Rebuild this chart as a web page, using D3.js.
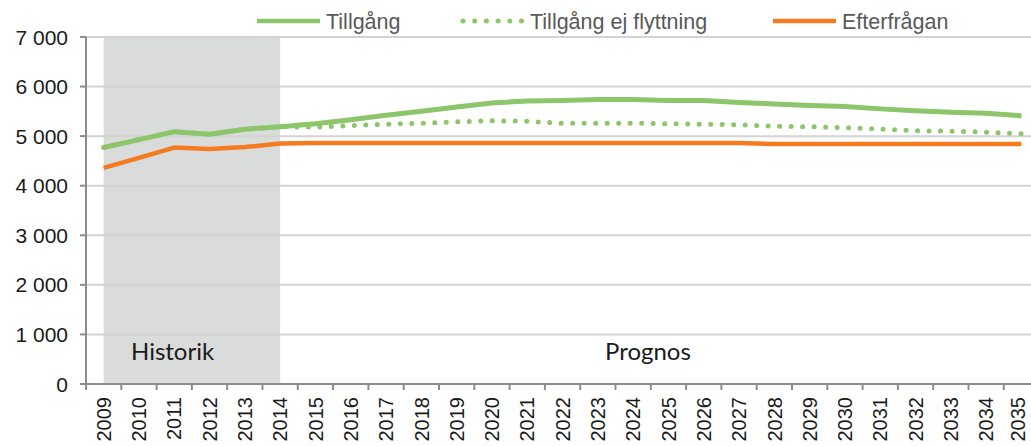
<!DOCTYPE html>
<html>
<head>
<meta charset="utf-8">
<script src="https://cdn.jsdelivr.net/npm/d3@7"></script>
<style>
  body { margin: 0; background: white; }
  .gridline { stroke: #d3d3d3; stroke-width: 2; }
  .axisline { stroke: #8c8c8c; stroke-width: 2; }
  .ytick { font-family: "Liberation Sans", Arial, sans-serif; font-size: 21px; fill: #1a1a1a; }
  .xtick { font-family: "Liberation Sans", Arial, sans-serif; font-size: 20px; fill: #1a1a1a; }
  .legend { font-family: "Liberation Sans", Arial, sans-serif; font-size: 21.5px; fill: #595959; }
  .area-label { font-family: Lato, "Open Sans", sans-serif; font-size: 24px; fill: #1a1a1a; }
</style>
</head>
<body>
<div id="chart"></div>
<script>
var years = ["2009","2010","2011","2012","2013","2014","2015","2016","2017","2018","2019","2020","2021","2022",
  "2023","2024","2025","2026","2027","2028","2029","2030","2031","2032","2033","2034","2035"];

var tillgang = [4770, 4930, 5090, 5040, 5140, 5190, 5250, 5330, 5420, 5500, 5590, 5670, 5710, 5720,
  5740, 5740, 5720, 5720, 5680, 5650, 5620, 5600, 5550, 5510, 5480, 5460, 5410];

var tillgangEjFlytt = [4770, 4930, 5090, 5040, 5140, 5190, 5180, 5210, 5240, 5260, 5290, 5310, 5300, 5260,
  5260, 5260, 5250, 5240, 5230, 5200, 5190, 5170, 5140, 5110, 5100, 5080, 5050];

var efterfragan = [4360, 4560, 4770, 4740, 4780, 4850, 4860, 4860, 4860, 4860, 4860, 4860, 4860, 4860,
  4860, 4860, 4860, 4860, 4860, 4840, 4840, 4840, 4840, 4840, 4840, 4840, 4840];

var yTicks = [0, 1000, 2000, 3000, 4000, 5000, 6000, 7000];
var legendNames = ["Tillgång", "Tillgång ej flyttning", "Efterfrågan"];

var green = "#8cc56a";
var orange = "#f57b20";

var width = 1031, height = 446;

var svg = d3.select("#chart")
  .append("svg")
  .attr("width", width)
  .attr("height", height);

var x = d3.scaleBand()
  .domain(years)
  .range([86, 86 + 27 * 35.3])
  .padding(0);

var y = d3.scaleLinear()
  .domain([0, 7000])
  .range([384, 37]);

var cx = function (yr) { return x(yr) + x.bandwidth() / 2; };

// shaded history area
svg.append("rect")
  .attr("x", cx("2009"))
  .attr("y", y(7000))
  .attr("width", cx("2014") - cx("2009"))
  .attr("height", y(0) - y(7000))
  .attr("fill", "#dadbdb");

// gridlines
svg.append("g")
  .selectAll("line")
  .data(yTicks.filter(d => d > 0))
  .enter().append("line")
  .attr("class", "gridline")
  .attr("x1", 86)
  .attr("x2", width)
  .attr("y1", d => y(d))
  .attr("y2", d => y(d));

// y axis
svg.append("line")
  .attr("class", "axisline")
  .attr("x1", 86).attr("x2", 86)
  .attr("y1", y(7000)).attr("y2", y(0));

svg.append("g")
  .selectAll("line")
  .data(yTicks)
  .enter().append("line")
  .attr("class", "axisline")
  .attr("x1", 80).attr("x2", 86)
  .attr("y1", d => y(d)).attr("y2", d => y(d));

svg.append("g")
  .selectAll("text")
  .data(yTicks)
  .enter().append("text")
  .attr("class", "ytick")
  .attr("x", 68)
  .attr("y", d => y(d))
  .attr("dy", "0.36em")
  .attr("text-anchor", "end")
  .text(d => d3.format(",")(d).replace(",", " "));

// x axis
svg.append("line")
  .attr("class", "axisline")
  .attr("x1", 86).attr("x2", width)
  .attr("y1", y(0)).attr("y2", y(0));

svg.append("g")
  .selectAll("line")
  .data(years)
  .enter().append("line")
  .attr("class", "axisline")
  .attr("x1", d => x(d)).attr("x2", d => x(d))
  .attr("y1", y(0)).attr("y2", y(0) + 6);

// last label nudged left so it stays inside the page
svg.append("g")
  .selectAll("text")
  .data(years)
  .enter().append("text")
  .attr("class", "xtick")
  .attr("transform", d => "translate(" + Math.min(cx(d), 1018) + ",397)rotate(-90)")
  .attr("dy", "0.36em")
  .attr("text-anchor", "end")
  .text(d => d);

// area labels
svg.append("text").attr("class", "area-label").attr("x", 131).attr("y", 360).text("Historik");
svg.append("text").attr("class", "area-label").attr("x", 605).attr("y", 360).text("Prognos");

// lines
var line = d3.line()
  .x((d, i) => cx(years[i]))
  .y(d => y(d));

svg.append("path")
  .datum(efterfragan)
  .attr("fill", "none")
  .attr("stroke", orange)
  .attr("stroke-width", 4.5)
  .attr("stroke-linejoin", "round")
  .attr("d", line);

svg.append("path")
  .datum(tillgang)
  .attr("fill", "none")
  .attr("stroke", green)
  .attr("stroke-width", 5)
  .attr("stroke-linejoin", "round")
  .attr("d", line);

svg.append("path")
  .datum(tillgangEjFlytt)
  .attr("fill", "none")
  .attr("stroke", green)
  .attr("stroke-width", 5)
  .attr("stroke-linecap", "round")
  .attr("stroke-dasharray", "0,11.5")
  .attr("d", line);

// legend
var legend = svg.append("g");
var legendX = [257, 463, 773];
var legendStyle = [
  { color: green, dash: null, cap: "butt" },
  { color: green, dash: "0,11.7", cap: "round" },
  { color: orange, dash: null, cap: "butt" }
];

legendNames.forEach(function (name, i) {
  legend.append("line")
    .attr("x1", legendX[i])
    .attr("x2", legendX[i] + (i == 1 ? 59 : 63))
    .attr("y1", 21).attr("y2", 21)
    .attr("stroke", legendStyle[i].color)
    .attr("stroke-width", i == 1 ? 5 : 4.5)
    .attr("stroke-linecap", legendStyle[i].cap)
    .attr("stroke-dasharray", legendStyle[i].dash);
  legend.append("text")
    .attr("class", "legend")
    .attr("x", legendX[i] + (i == 1 ? 67 : 69))
    .attr("y", 21)
    .attr("dy", "0.36em")
    .text(name);
});
</script>
</body>
</html>
